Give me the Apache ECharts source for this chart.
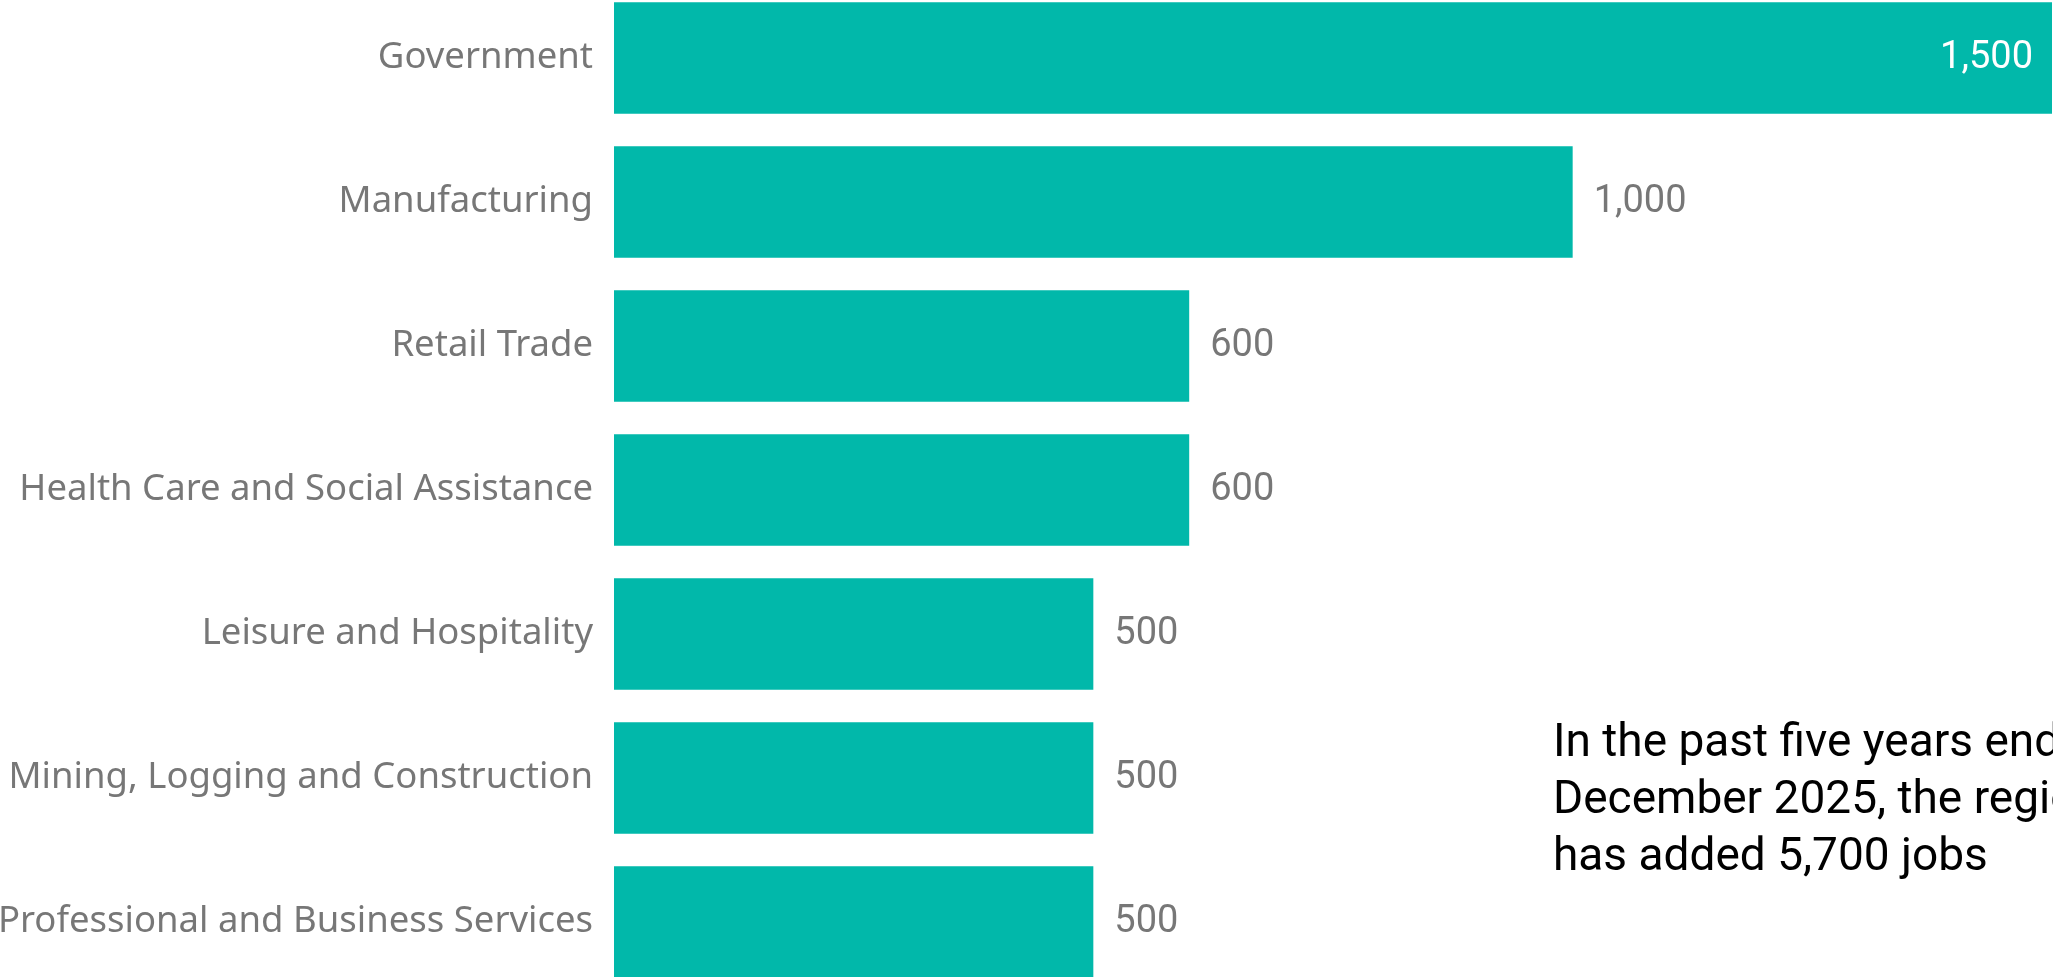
<!DOCTYPE html>
<html>
<head>
<meta charset="utf-8">
<title>Jobs added by industry</title>
<script src="https://cdn.jsdelivr.net/npm/echarts@6/dist/echarts.min.js"></script>
<style>
  html, body { margin: 0; padding: 0; background: #ffffff; }
  #chart { width: 2053px; height: 977px; }
</style>
</head>
<body>
<div id="chart"></div>
<script>
// Industries, top to bottom
const industries = [
  'Government',
  'Manufacturing',
  'Retail Trade',
  'Health Care and Social Assistance',
  'Leisure and Hospitality',
  'Mining, Logging and Construction',
  'Professional and Business Services'
];

// Jobs added over the five years
const jobsAdded = [1500, 1000, 600, 600, 500, 500, 500];

// Side note
const noteLines = [
  'In the past five years ending',
  'December 2025, the region',
  'has added 5,700 jobs'
];

const BAR_COLOR = '#01B8AA';
const LABEL_GREY = '#777777';
const maxValue = Math.max(...jobsAdded);

const chart = echarts.init(document.getElementById('chart'), null, { renderer: 'canvas' });

const barData = jobsAdded.map((v) => {
  const item = { value: v };
  // the widest bar carries its label inside, in white
  if (v === maxValue) {
    item.label = { position: 'insideRight', distance: 19, color: '#ffffff' };
  }
  return item;
});

chart.setOption({
  backgroundColor: '#ffffff',
  animation: false,
  grid: {
    left: 614,
    right: 1,
    top: -14,
    height: 1008,
    containLabel: false,
    outerBoundsMode: 'none'
  },
  xAxis: {
    type: 'value',
    min: 0,
    max: maxValue,
    show: false
  },
  yAxis: {
    type: 'category',
    data: industries,
    inverse: true,
    axisLine: { show: false },
    axisTick: { show: false },
    splitLine: { show: false },
    axisLabel: {
      margin: 21,
      color: LABEL_GREY,
      fontFamily: '"Noto Sans", "Open Sans", sans-serif',
      fontSize: 36.5
    }
  },
  series: [{
    type: 'bar',
    data: barData,
    barCategoryGap: '22.6%',
    itemStyle: { color: BAR_COLOR },
    label: {
      show: true,
      position: 'right',
      distance: 21,
      color: LABEL_GREY,
      fontFamily: 'Roboto, sans-serif',
      fontSize: 38,
      formatter: (p) => p.value.toLocaleString('en-US')
    }
  }],
  graphic: [{
    type: 'text',
    silent: true,
    style: {
      x: 1553,
      y: 801,
      text: noteLines.join('\n'),
      fill: '#000000',
      fontFamily: 'Roboto, sans-serif',
      fontSize: 46,
      lineHeight: 57,
      textAlign: 'left',
      textVerticalAlign: 'middle'
    }
  }]
});
</script>
</body>
</html>
